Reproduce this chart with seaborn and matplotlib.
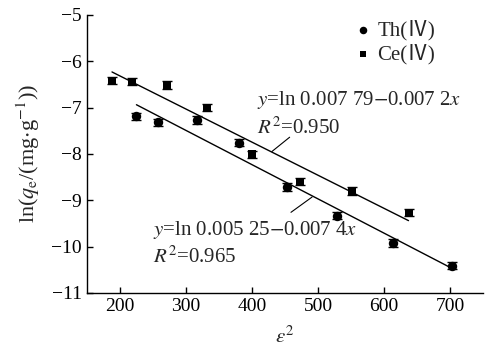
import matplotlib
matplotlib.use("Agg")
import matplotlib.pyplot as plt
import seaborn as sns
import numpy as np
import pandas as pd

# data
th_x = [225, 257, 317, 381, 453, 529, 613, 703]
th_y = [-7.19, -7.32, -7.27, -7.76, -8.71, -9.33, -9.92, -10.41]
th_err = [0.08, 0.08, 0.08, 0.08, 0.08, 0.08, 0.08, 0.08]
ce_x = [188, 218, 272, 332, 400, 472, 552, 637]
ce_y = [-6.42, -6.44, -6.51, -7.00, -8.01, -8.60, -8.80, -9.27]
ce_err = [0.08, 0.08, 0.08, 0.08, 0.08, 0.08, 0.08, 0.08]
x_ticks = [200, 300, 400, 500, 600, 700]
y_ticks = [-5, -6, -7, -8, -9, -10, -11]

sns.set_style("ticks")
plt.rcParams['font.family'] = ['Liberation Serif', 'DejaVu Serif']
plt.rcParams['mathtext.fontset'] = 'stix'
plt.rcParams['xtick.direction'] = 'in'
plt.rcParams['ytick.direction'] = 'in'

FS = 14
AFS = 15

fig = plt.figure(figsize=(4.91, 3.53), dpi=100)
ax = fig.add_axes([0.177, 0.170, 0.807, 0.788])

df_th = pd.DataFrame({'x': th_x, 'y': th_y})
df_ce = pd.DataFrame({'x': ce_x, 'y': ce_y})

sns.regplot(data=df_th, x='x', y='y', ax=ax, ci=None, truncate=True,
            scatter=False, line_kws=dict(color='black', lw=1.0))
sns.regplot(data=df_ce, x='x', y='y', ax=ax, ci=None, truncate=True,
            scatter=False, line_kws=dict(color='black', lw=1.0))

ax.errorbar(th_x, th_y, yerr=th_err, fmt='none', ecolor='black',
            capsize=3.5, elinewidth=1, capthick=1)
ax.errorbar(ce_x, ce_y, yerr=ce_err, fmt='none', ecolor='black',
            capsize=3.5, elinewidth=1, capthick=1)
sns.scatterplot(data=df_th, x='x', y='y', ax=ax, marker='o', s=46,
                color='black', edgecolor='black', linewidth=0, label='Th(Ⅳ)', zorder=3)
sns.scatterplot(data=df_ce, x='x', y='y', ax=ax, marker='s', s=36,
                color='black', edgecolor='black', linewidth=0, label='Ce(Ⅳ)', zorder=3)

ax.set_xlim(150, 750)
ax.set_ylim(-11, -5)
ax.set_xticks(x_ticks)
ax.set_yticks(y_ticks)
ax.set_yticklabels(['\u2212%d' % abs(v) for v in y_ticks])
ax.tick_params(labelsize=FS, length=4, width=1, colors='black')
for s in ['top', 'right']:
    ax.spines[s].set_visible(False)
for s in ['left', 'bottom']:
    ax.spines[s].set_linewidth(1)
    ax.spines[s].set_color('black')

ax.set_xlabel(r'$\varepsilon^2$', fontsize=15, labelpad=8)
ax.set_ylabel(r'ln($q_{\rm e}$/(mg$\cdot$g$^{-1}$))', fontsize=16, labelpad=7)

leg = ax.legend(loc='upper right', frameon=False,
                prop=dict(family=['Liberation Serif', 'Noto Sans CJK SC'], size=15),
                handletextpad=0.1, borderaxespad=0.1, labelspacing=0.2,
                handlelength=1.2, markerscale=0.8, bbox_to_anchor=(0.905, 1.02))

ax.text(407, -6.83, r'$y$=ln 0.007 79$-$0.007 2$x$', fontsize=AFS, va='center', ha='left')
ax.text(407, -7.44, r'$R^2$=0.950', fontsize=AFS, va='center', ha='left')
ax.plot([430, 457], [-7.95, -7.64], color='black', lw=0.8)
ax.text(250, -9.64, r'$y$=ln 0.005 25$-$0.007 4$x$', fontsize=AFS, va='center', ha='left')
ax.text(250, -10.22, r'$R^2$=0.965', fontsize=AFS, va='center', ha='left')
ax.plot([459, 491], [-9.26, -8.93], color='black', lw=0.8)

fig.savefig('out.png', dpi=100)
